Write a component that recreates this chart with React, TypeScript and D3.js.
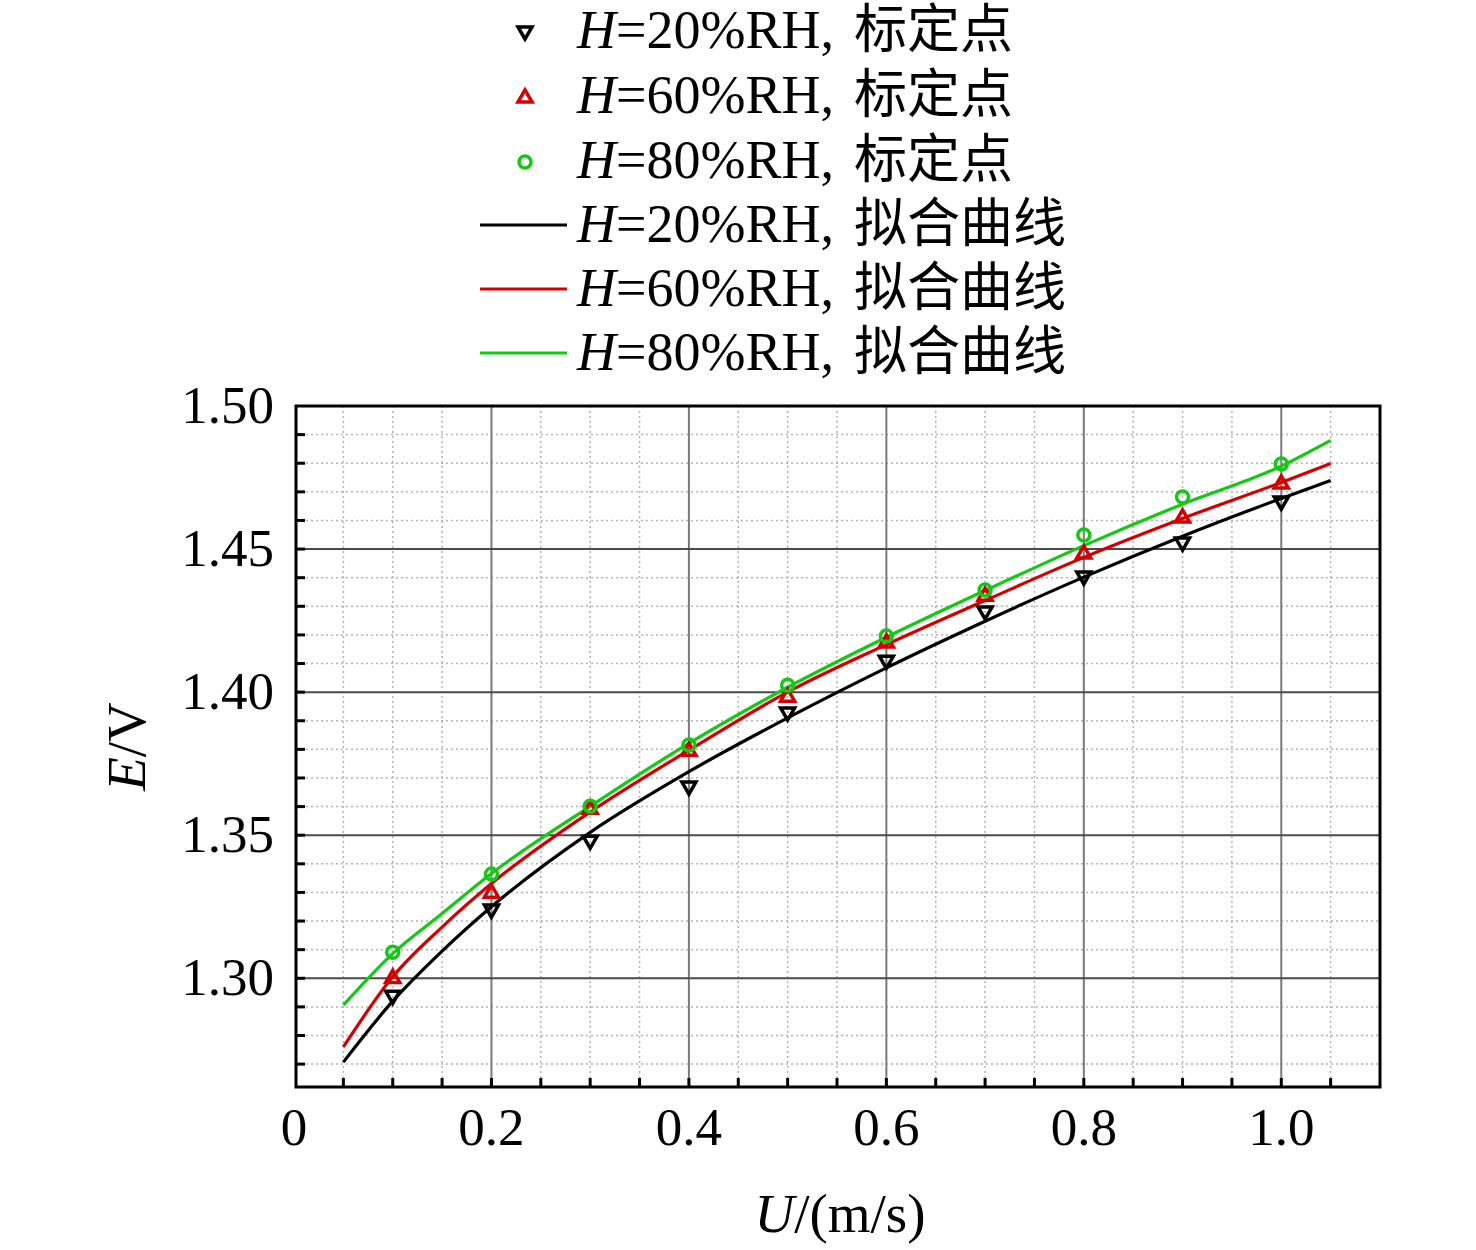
import * as d3 from 'd3';

const speeds = [0.1, 0.2, 0.3, 0.4, 0.5, 0.6, 0.7, 0.8, 0.9, 1.0];
const cal20 = [1.2937, 1.3238, 1.3479, 1.3668, 1.3927, 1.4108, 1.428, 1.4402, 1.4521, 1.4664];
const cal60 = [1.3003, 1.3301, 1.3594, 1.3797, 1.3986, 1.4175, 1.4339, 1.4486, 1.4612, 1.4731];
const cal80 = [1.3091, 1.3364, 1.3601, 1.3815, 1.4024, 1.4196, 1.4357, 1.4549, 1.4682, 1.4797];

const fitU = [0.05, 0.1, 0.15, 0.2, 0.3, 0.4, 0.5, 0.6, 0.7, 0.8, 0.9, 1.0, 1.05];
const fit20 = [1.2707, 1.292, 1.3095, 1.325, 1.351, 1.3722, 1.391, 1.4085, 1.4248, 1.4402, 1.4545, 1.4677, 1.474];
const fit60 = [1.276, 1.3005, 1.3179, 1.3331, 1.3581, 1.3797, 1.4, 1.4166, 1.432, 1.4471, 1.4607, 1.4733, 1.4799];
const fit80 = [1.2906, 1.3086, 1.3226, 1.3366, 1.3601, 1.3821, 1.4017, 1.4192, 1.4355, 1.4512, 1.4657, 1.479, 1.488];

const xTickLabels = [0, 0.2, 0.4, 0.6, 0.8, 1.0];
const yTickLabels = [1.3, 1.35, 1.4, 1.45, 1.5];
const humidity = ['20', '60', '80'];

const COLORS = ['#000000', '#d40000', '#14c814'];
const SERIF = '"Liberation Serif", "Times New Roman", serif';
const CJK = '"Noto Sans CJK SC", sans-serif';

const W = 1476;
const H = 1250;
const left = 296;
const right = 1380;
const top = 406;
const bottom = 1087;

export default function App() {
  const x = d3.scaleLinear().domain([0, 1.1]).range([294, right]);
  const y = d3.scaleLinear().domain([1.262, 1.5]).range([bottom, top]);

  const line = d3
    .line<[number, number]>()
    .x(d => x(d[0]))
    .y(d => y(d[1]))
    .curve(d3.curveMonotoneX);

  const minorX = d3.range(1, 22).map(i => i * 0.05).filter(v => Math.round(v * 100) % 20 !== 0);
  const majorX = [0.2, 0.4, 0.6, 0.8, 1.0];
  const minorY = d3.range(127, 150).map(i => i / 100).filter(v => Math.round(v * 100) % 5 !== 0);
  const majorY = [1.3, 1.35, 1.4, 1.45];
  const tickX = d3.range(1, 22).map(i => i * 0.05);
  const tickY = d3.range(127, 150).map(i => i / 100);

  const tri = d3.symbol().type(d3.symbolTriangle).size(85)() as string;

  const marker = (k: number, cx: number, cy: number, key: string) => {
    if (k === 2)
      return <circle key={key} cx={cx} cy={cy} r={6} fill="none" stroke={COLORS[k]} strokeWidth={3.5} />;
    return (
      <path
        key={key}
        d={tri}
        transform={`translate(${cx},${cy + (k === 0 ? -1 : 1)}) rotate(${k === 0 ? 180 : 0})`}
        fill="none"
        stroke={COLORS[k]}
        strokeWidth={3.5}
      />
    );
  };

  const cals = [cal20, cal60, cal80];
  const fits = [fit20, fit60, fit80];

  return (
    <svg width={W} height={H} style={{ position: 'absolute', left: 0, top: 0, background: '#fff' }}>
      {/* legend */}
      <g fontFamily={SERIF} fontSize={54}>
        {humidity.map((h, i) => (
          <g key={'lp' + i}>
            {marker(i, 525, 32 + i * 65, 'lm' + i)}
            <text x={577} y={48 + i * 65}>
              <tspan fontStyle="italic">H</tspan>
              <tspan>{`=${h}%RH,`}</tspan>
              <tspan fontFamily={CJK} fontSize={53} dx={20}>标定点</tspan>
            </text>
          </g>
        ))}
        {humidity.map((h, i) => (
          <g key={'ll' + i}>
            <line x1={480} x2={567} y1={225 + i * 64} y2={225 + i * 64} stroke={COLORS[i]} strokeWidth={3} />
            <text x={577} y={242 + i * 64}>
              <tspan fontStyle="italic">H</tspan>
              <tspan>{`=${h}%RH,`}</tspan>
              <tspan fontFamily={CJK} fontSize={53} dx={20}>拟合曲线</tspan>
            </text>
          </g>
        ))}
      </g>

      {/* grid */}
      <g>
        {minorX.map(v => (
          <line key={'mx' + v} x1={x(v)} x2={x(v)} y1={top} y2={bottom} stroke="#b4b4b4" strokeWidth={1.5} strokeDasharray="2,3" />
        ))}
        {minorY.map(v => (
          <line key={'my' + v} x1={left} x2={right} y1={y(v)} y2={y(v)} stroke="#b4b4b4" strokeWidth={1.5} strokeDasharray="2,3" />
        ))}
        {majorX.map(v => (
          <line key={'Mx' + v} x1={x(v)} x2={x(v)} y1={top} y2={bottom} stroke="#7a7a7a" strokeWidth={2} />
        ))}
        {majorY.map(v => (
          <line key={'My' + v} x1={left} x2={right} y1={y(v)} y2={y(v)} stroke="#4a4a4a" strokeWidth={2} />
        ))}
      </g>

      {/* fitted curves */}
      {fits.map((f, k) => (
        <path
          key={'f' + k}
          d={line(fitU.map((u, i) => [u, f[i]] as [number, number])) || ''}
          fill="none"
          stroke={COLORS[k]}
          strokeWidth={3.2}
        />
      ))}

      {/* calibration points */}
      {cals.map((c, k) => c.map((v, i) => marker(k, x(speeds[i]), y(v), `p${k}-${i}`)))}

      {/* frame and ticks */}
      <rect x={left} y={top} width={right - left} height={bottom - top} fill="none" stroke="#000" strokeWidth={3} />
      {tickX.map(v => (
        <line key={'tx' + v} x1={x(v)} x2={x(v)} y1={bottom} y2={bottom - 9} stroke="#000" strokeWidth={3} />
      ))}
      {tickY.map(v => (
        <line key={'ty' + v} x1={left} x2={left + 9} y1={y(v)} y2={y(v)} stroke="#000" strokeWidth={3} />
      ))}

      {/* tick labels */}
      <g fontFamily={SERIF} fontSize={53} fill="#000">
        {xTickLabels.map(v => (
          <text key={'xl' + v} x={x(v)} y={1145} textAnchor="middle">
            {v === 0 ? '0' : v.toFixed(1)}
          </text>
        ))}
        {yTickLabels.map(v => (
          <text key={'yl' + v} x={274} y={y(v) + 17} textAnchor="end">
            {v.toFixed(2)}
          </text>
        ))}
      </g>

      {/* axis titles */}
      <text x={840} y={1232} textAnchor="middle" fontFamily={SERIF} fontSize={55}>
        <tspan fontStyle="italic">U</tspan>
        <tspan>/(m/s)</tspan>
      </text>
      <text
        transform={`translate(145,${(top + bottom) / 2}) rotate(-90)`}
        textAnchor="middle"
        fontFamily={SERIF}
        fontSize={55}
      >
        <tspan fontStyle="italic">E</tspan>
        <tspan>/V</tspan>
      </text>
    </svg>
  );
}
